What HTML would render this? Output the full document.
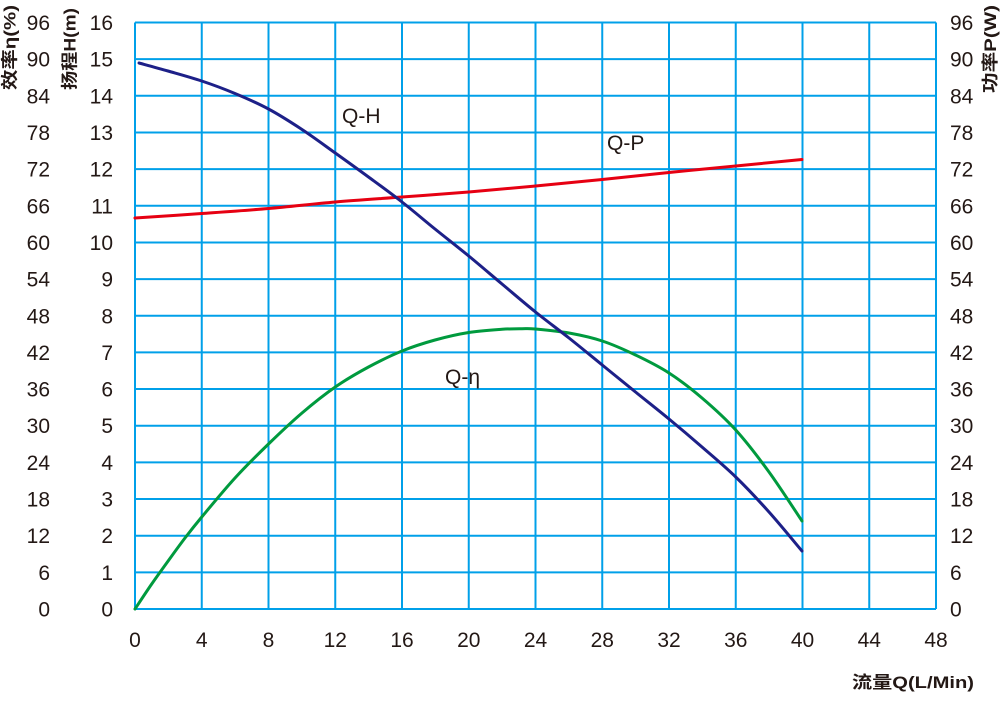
<!DOCTYPE html>
<html>
<head>
<meta charset="utf-8">
<style>
  html,body{margin:0;padding:0;background:#fff;}
  svg{display:block;}
  text{font-family:"Liberation Sans","Noto Sans CJK SC",sans-serif;fill:#231815;}
  .t{font-size:21px;}
  .b{font-weight:bold;font-size:17px;}
</style>
</head>
<body>
<svg id="chart" width="1000" height="702" viewBox="0 0 1000 702" xmlns="http://www.w3.org/2000/svg">
  <!-- grid -->
  <g stroke="#00a0e9" stroke-width="2" fill="none">
    <line x1="135" y1="22.5" x2="135" y2="609"/>
    <line x1="201.75" y1="22.5" x2="201.75" y2="609"/>
    <line x1="268.5" y1="22.5" x2="268.5" y2="609"/>
    <line x1="335.25" y1="22.5" x2="335.25" y2="609"/>
    <line x1="402" y1="22.5" x2="402" y2="609"/>
    <line x1="468.75" y1="22.5" x2="468.75" y2="609"/>
    <line x1="535.5" y1="22.5" x2="535.5" y2="609"/>
    <line x1="602.25" y1="22.5" x2="602.25" y2="609"/>
    <line x1="669" y1="22.5" x2="669" y2="609"/>
    <line x1="735.75" y1="22.5" x2="735.75" y2="609"/>
    <line x1="802.5" y1="22.5" x2="802.5" y2="609"/>
    <line x1="869.25" y1="22.5" x2="869.25" y2="609"/>
    <line x1="936" y1="22.5" x2="936" y2="609"/>

    <line x1="135" y1="22.5" x2="936" y2="22.5"/>
    <line x1="135" y1="59.16" x2="936" y2="59.16"/>
    <line x1="135" y1="95.81" x2="936" y2="95.81"/>
    <line x1="135" y1="132.47" x2="936" y2="132.47"/>
    <line x1="135" y1="169.13" x2="936" y2="169.13"/>
    <line x1="135" y1="205.78" x2="936" y2="205.78"/>
    <line x1="135" y1="242.44" x2="936" y2="242.44"/>
    <line x1="135" y1="279.09" x2="936" y2="279.09"/>
    <line x1="135" y1="315.75" x2="936" y2="315.75"/>
    <line x1="135" y1="352.41" x2="936" y2="352.41"/>
    <line x1="135" y1="389.06" x2="936" y2="389.06"/>
    <line x1="135" y1="425.72" x2="936" y2="425.72"/>
    <line x1="135" y1="462.38" x2="936" y2="462.38"/>
    <line x1="135" y1="499.03" x2="936" y2="499.03"/>
    <line x1="135" y1="535.69" x2="936" y2="535.69"/>
    <line x1="135" y1="572.34" x2="936" y2="572.34"/>
    <line x1="135" y1="609" x2="936" y2="609"/>
  </g>

  <!-- curves -->
  <polyline class="sm" fill="none" stroke="#e60012" stroke-width="3" stroke-linejoin="round" stroke-linecap="round"
    points="135,218 201.75,213.5 268.5,208.5 335.25,202 402,197 468.75,192 535.5,186 602.25,179.5 669,172.5 735.75,166 802,159.5"/>
  <polyline class="sm" fill="none" stroke="#009a3e" stroke-width="3" stroke-linejoin="round" stroke-linecap="round"
    points="135,609 151.7,584 168.4,560.6 185,538 201.75,517 235,478 268.5,444 302,413 335.25,387 368.5,367 402,351 435,340 468.75,332.5 502,329.3 522,328.7 535.5,329 569,333 602.25,341 635.5,355 669,373 702,398 735.75,430 769,472 802,521"/>
  <polyline class="sm" fill="none" stroke="#1d2088" stroke-width="3" stroke-linejoin="round" stroke-linecap="round"
    points="139,63 168,71 201.75,81 235,93.5 268.5,109 302,129.5 335.25,153 368.5,177 402,202 435,229 468.75,256 502,284 535.5,312 569,338 602.25,365 635.5,392 669,419 702,447 735.75,477 769,512 802,551"/>

  <!-- curve labels -->
  <text class="t" x="342" y="123" font-size="20">Q-H</text>
  <text class="t" x="607" y="150" font-size="20">Q-P</text>
  <text class="t" x="445" y="384" font-size="20">Q-η</text>

  <!-- left eta labels -->
  <g class="t" text-anchor="end">
    <text x="50" y="30">96</text>
    <text x="50" y="66.7">90</text>
    <text x="50" y="103.3">84</text>
    <text x="50" y="140">78</text>
    <text x="50" y="176.6">72</text>
    <text x="50" y="213.3">66</text>
    <text x="50" y="250">60</text>
    <text x="50" y="286.6">54</text>
    <text x="50" y="323.3">48</text>
    <text x="50" y="360">42</text>
    <text x="50" y="396.6">36</text>
    <text x="50" y="433.2">30</text>
    <text x="50" y="469.9">24</text>
    <text x="50" y="506.5">18</text>
    <text x="50" y="543.2">12</text>
    <text x="50" y="579.8">6</text>
    <text x="50" y="616.5">0</text>
  </g>
  <!-- H labels -->
  <g class="t" text-anchor="end">
    <text x="113" y="30">16</text>
    <text x="113" y="66.7">15</text>
    <text x="113" y="103.3">14</text>
    <text x="113" y="140">13</text>
    <text x="113" y="176.6">12</text>
    <text x="113" y="213.3">11</text>
    <text x="113" y="250">10</text>
    <text x="113" y="286.6">9</text>
    <text x="113" y="323.3">8</text>
    <text x="113" y="360">7</text>
    <text x="113" y="396.6">6</text>
    <text x="113" y="433.2">5</text>
    <text x="113" y="469.9">4</text>
    <text x="113" y="506.5">3</text>
    <text x="113" y="543.2">2</text>
    <text x="113" y="579.8">1</text>
    <text x="113" y="616.5">0</text>
  </g>
  <!-- right P labels -->
  <g class="t" text-anchor="start">
    <text x="950" y="30">96</text>
    <text x="950" y="66.7">90</text>
    <text x="950" y="103.3">84</text>
    <text x="950" y="140">78</text>
    <text x="950" y="176.6">72</text>
    <text x="950" y="213.3">66</text>
    <text x="950" y="250">60</text>
    <text x="950" y="286.6">54</text>
    <text x="950" y="323.3">48</text>
    <text x="950" y="360">42</text>
    <text x="950" y="396.6">36</text>
    <text x="950" y="433.2">30</text>
    <text x="950" y="469.9">24</text>
    <text x="950" y="506.5">18</text>
    <text x="950" y="543.2">12</text>
    <text x="950" y="579.8">6</text>
    <text x="950" y="616.5">0</text>
  </g>
  <!-- x labels -->
  <g class="t" text-anchor="middle">
    <text x="135" y="647">0</text>
    <text x="201.75" y="647">4</text>
    <text x="268.5" y="647">8</text>
    <text x="335.25" y="647">12</text>
    <text x="402" y="647">16</text>
    <text x="468.75" y="647">20</text>
    <text x="535.5" y="647">24</text>
    <text x="602.25" y="647">28</text>
    <text x="669" y="647">32</text>
    <text x="735.75" y="647">36</text>
    <text x="802.5" y="647">40</text>
    <text x="869.25" y="647">44</text>
    <text x="936" y="647">48</text>
  </g>

  <!-- axis titles -->
  <text class="b" transform="translate(15.5,47.5) rotate(-90)" text-anchor="middle" textLength="85" lengthAdjust="spacingAndGlyphs">效率η(%)</text>
  <text class="b" transform="translate(75.5,49) rotate(-90)" text-anchor="middle" textLength="82" lengthAdjust="spacingAndGlyphs">扬程H(m)</text>
  <text class="b" transform="translate(996,49) rotate(-90)" text-anchor="middle" textLength="88" lengthAdjust="spacingAndGlyphs">功率P(W)</text>
  <text class="b" x="852" y="688" font-size="18" textLength="122" lengthAdjust="spacingAndGlyphs">流量Q(L/Min)</text>
</svg>
<script>
(function(){
  var NS="http://www.w3.org/2000/svg";
  var pls=document.querySelectorAll("polyline.sm");
  for(var k=0;k<pls.length;k++){
    var pl=pls[k];
    var raw=pl.getAttribute("points").trim().split(/\s+/).map(function(s){var a=s.split(",");return [parseFloat(a[0]),parseFloat(a[1])];});
    var n=raw.length;
    var d="M"+raw[0][0]+","+raw[0][1];
    for(var i=0;i<n-1;i++){
      var p0=raw[i>0?i-1:i],p1=raw[i],p2=raw[i+1],p3=raw[i+2<n?i+2:i+1];
      var c1x=p1[0]+(p2[0]-p0[0])/6,c1y=p1[1]+(p2[1]-p0[1])/6;
      var c2x=p2[0]-(p3[0]-p1[0])/6,c2y=p2[1]-(p3[1]-p1[1])/6;
      d+=" C"+c1x.toFixed(2)+","+c1y.toFixed(2)+" "+c2x.toFixed(2)+","+c2y.toFixed(2)+" "+p2[0]+","+p2[1];
    }
    var p=document.createElementNS(NS,"path");
    p.setAttribute("d",d);
    ["fill","stroke","stroke-width","stroke-linejoin","stroke-linecap"].forEach(function(a){p.setAttribute(a,pl.getAttribute(a));});
    pl.parentNode.replaceChild(p,pl);
  }
})();
</script>
</body>
</html>
